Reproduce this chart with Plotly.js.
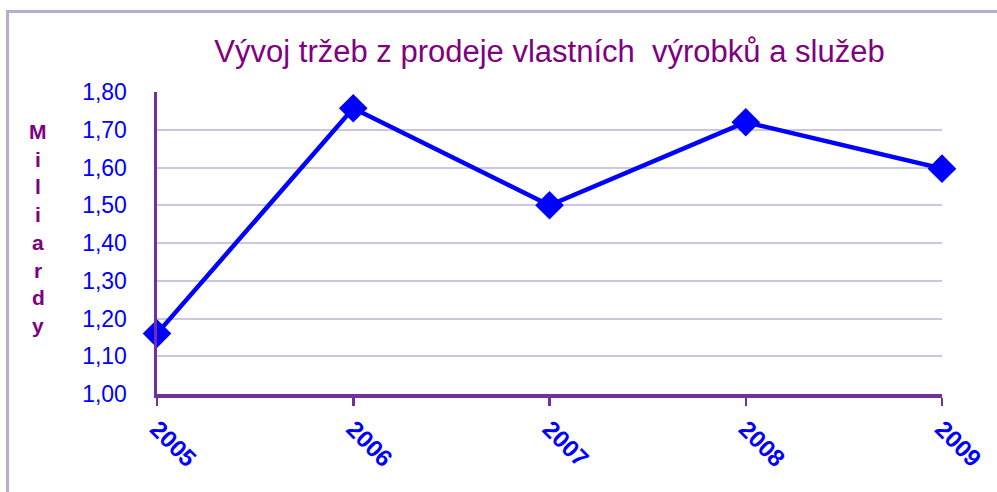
<!DOCTYPE html>
<html>
<head>
<meta charset="utf-8">
<script src="https://cdn.plot.ly/plotly-3.0.1.min.js"></script>
<style>html,body{margin:0;padding:0;background:#fff;}#chart{width:997px;height:492px;}</style>
</head>
<body>
<div id="chart"></div>
<script>
var years = [2005, 2006, 2007, 2008, 2009];
var revenue = [1.16, 1.757, 1.50, 1.72, 1.597];
var yTicks = [1.0, 1.1, 1.2, 1.3, 1.4, 1.5, 1.6, 1.7, 1.8];
var titleText = "Vývoj tržeb z prodeje vlastních  výrobků a služeb";
var yTitle = "Miliardy";

var trace = {
  x: years,
  y: revenue,
  type: 'scatter',
  mode: 'lines+markers',
  cliponaxis: false,
  line: {color: '#0000ff', width: 4.5},
  marker: {symbol: 'diamond', size: 22, color: '#0000ff'},
  hoverinfo: 'skip'
};

var ann = [];
var letters = yTitle.split('');
for (var i = 0; i < letters.length; i++) {
  ann.push({
    text: letters[i], xref: 'paper', yref: 'paper',
    x: (38 - 157) / 785, y: (394 - (131.5 + i * 27.7)) / 302,
    xanchor: 'center', yanchor: 'middle', showarrow: false,
    font: {family: 'Liberation Sans, Arial, sans-serif', size: 21, color: '#800080', weight: 'bold'}
  });
}

var layout = {
  width: 997, height: 492,
  margin: {l: 157, r: 55, t: 92, b: 98},
  paper_bgcolor: '#ffffff', plot_bgcolor: '#ffffff',
  separators: ', ',
  showlegend: false,
  title: {
    text: titleText, x: 0.5, xref: 'paper', y: 1 - 51 / 492, yref: 'container',
    xanchor: 'center', yanchor: 'middle',
    font: {family: 'Liberation Sans, Arial, sans-serif', size: 31, color: '#800080'}
  },
  xaxis: {
    range: [2005, 2009], tickvals: years, ticktext: years.map(String),
    tickangle: 45, showgrid: false, zeroline: false,
    showline: true, linecolor: '#7030a0', linewidth: 3.5,
    ticks: 'outside', ticklen: 8, tickwidth: 2.5, tickcolor: '#7030a0',
    ticklabelstandoff: 0,
    tickfont: {family: 'Liberation Sans, Arial, sans-serif', size: 24, color: '#0000ff', weight: 'bold'}
  },
  yaxis: {
    range: [1.0, 1.8], tickvals: yTicks, tickformat: '.2f',
    showgrid: true, gridcolor: '#cdc6df', gridwidth: 2, zeroline: false,
    showline: true, linecolor: '#7030a0', linewidth: 3.5,
    ticks: '', ticklabelstandoff: 22,
    tickfont: {family: 'Liberation Sans, Arial, sans-serif', size: 23, color: '#0000ff'}
  },
  annotations: ann,
  shapes: [{
    type: 'rect', xref: 'paper', yref: 'paper',
    x0: (7.5 - 157) / 785, x1: 1.2, y0: -0.5, y1: (394 - 11.5) / 302,
    line: {color: '#b9abd1', width: 3}, layer: 'below'
  }]
};

Plotly.newPlot('chart', [trace], layout, {displayModeBar: false, staticPlot: true});
</script>
</body>
</html>
